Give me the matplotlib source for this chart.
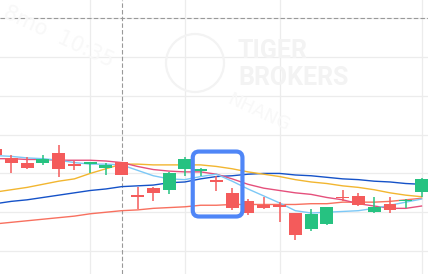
import numpy as np
import matplotlib.pyplot as plt
from matplotlib.patches import FancyBboxPatch, Ellipse

# candle data (open, high, low, close), one per bar
opens  = [1.631, 1.620, 1.613, 1.613, 1.626, 1.612, 1.612, 1.607, 1.615, 1.572,
          1.581, 1.579, 1.606, 1.603, 1.592, 1.575, 1.564, 1.559, 1.559, 1.549,
          1.528, 1.535, 1.570, 1.571, 1.550, 1.561, 1.564, 1.576]
highs  = [1.633, 1.624, 1.621, 1.624, 1.637, 1.616, 1.615, 1.613, 1.615, 1.582,
          1.582, 1.602, 1.621, 1.607, 1.597, 1.581, 1.567, 1.570, 1.563, 1.549,
          1.554, 1.557, 1.579, 1.575, 1.570, 1.570, 1.567, 1.594]
lows   = [1.622, 1.601, 1.606, 1.611, 1.595, 1.604, 1.601, 1.598, 1.598, 1.554,
          1.564, 1.573, 1.597, 1.597, 1.577, 1.553, 1.546, 1.554, 1.537, 1.514,
          1.526, 1.534, 1.564, 1.558, 1.549, 1.549, 1.555, 1.570]
closes = [1.624, 1.613, 1.607, 1.619, 1.606, 1.610, 1.615, 1.611, 1.598, 1.570,
          1.575, 1.601, 1.619, 1.606, 1.589, 1.555, 1.549, 1.555, 1.557, 1.521,
          1.548, 1.557, 1.568, 1.559, 1.557, 1.553, 1.566, 1.593]

# moving averages
ma5   = [1.623, 1.622, 1.620, 1.619, 1.617, 1.614, 1.612, 1.612, 1.611, 1.604,
         1.597, 1.593, 1.592, 1.596, 1.599, 1.590, 1.580, 1.571, 1.562, 1.552,
         1.549, 1.550, 1.551, 1.552, 1.555, 1.559, 1.563, 1.567]
ma10  = [1.619, 1.619, 1.618, 1.618, 1.617, 1.617, 1.617, 1.616, 1.614, 1.609,
         1.605, 1.603, 1.602, 1.602, 1.599, 1.593, 1.586, 1.581, 1.578, 1.575,
         1.573, 1.569, 1.566, 1.561, 1.558, 1.555, 1.555, 1.558]
ma20  = [1.576, 1.579, 1.582, 1.586, 1.590, 1.593, 1.600, 1.606, 1.612, 1.612,
         1.611, 1.611, 1.611, 1.611, 1.609, 1.606, 1.602, 1.599, 1.596, 1.592,
         1.589, 1.587, 1.584, 1.582, 1.579, 1.575, 1.572, 1.570]
ma60  = [1.561, 1.564, 1.566, 1.569, 1.572, 1.575, 1.578, 1.580, 1.583, 1.584,
         1.585, 1.588, 1.589, 1.593, 1.596, 1.597, 1.599, 1.600, 1.600, 1.598,
         1.597, 1.595, 1.593, 1.592, 1.590, 1.589, 1.587, 1.586]
ma120 = [1.535, 1.537, 1.539, 1.541, 1.543, 1.545, 1.548, 1.550, 1.552, 1.553,
         1.555, 1.556, 1.557, 1.559, 1.559, 1.560, 1.560, 1.560, 1.560, 1.560,
         1.561, 1.561, 1.563, 1.563, 1.563, 1.564, 1.566, 1.568]

grid_prices = [1.50, 1.55, 1.60, 1.65, 1.70, 1.75, 1.80]
grid_bars = [6, 12, 18, 27]
cross_bar = 8
cross_price = 1.80
box_bars = (12.5, 15.65)
box_prices = (1.5445, 1.6282)

up_col = '#26c281'
down_col = '#f45b5b'

x = np.arange(len(opens))
o = np.array(opens)
c = np.array(closes)

W, H = 428, 274
fig = plt.figure(figsize=(W / 100, H / 100), dpi=100)
ax = fig.add_axes([0, 0, 1, 1])
ax.set_xlim(0.284, 27.41)
ax.set_ylim(1.4704, 1.8235)

for s in ax.spines.values():
    s.set_visible(False)
ax.set_xticks(grid_bars)
ax.set_yticks(grid_prices)
ax.tick_params(length=0, labelbottom=False, labelleft=False)
ax.grid(True, color='#ececec', lw=0.9, zorder=0)
ax.set_axisbelow(True)

# watermark (very faint)
fig.patches.append(Ellipse((195 / W, 1 - 63 / H), 58 / W, 58 / H, transform=fig.transFigure,
                           fill=False, ec='#f3f3f3', lw=1.6, zorder=0))
fig.text(238 / W, 1 - 58 / H, 'TIGER', fontsize=18, fontweight='bold', family='Roboto',
         color='#f3f3f3', zorder=0)
fig.text(238 / W, 1 - 85 / H, 'BROKERS', fontsize=18, fontweight='bold', family='Roboto',
         color='#f3f3f3', zorder=0)
fig.text(0.0, 0.99, '8mo  10:35', fontsize=15, color='#f8f8f8', rotation=-25, va='top', zorder=0)
fig.text(225 / W, 1 - 90 / H, 'NHANG', fontsize=13, color='#f8f8f8', rotation=-25, va='top', zorder=0)

# crosshair
ax.axvline(cross_bar, color='#999999', lw=0.8, ls=(0, (4, 2)), zorder=1)
ax.axhline(cross_price, color='#999999', lw=0.8, ls=(0, (4, 2)), zorder=1)

# moving averages
ax.plot(x, ma120, color='#f8705f', lw=1.0, zorder=2)
ax.plot(x, ma60, color='#1552c8', lw=1.0, zorder=2)
ax.plot(x, ma20, color='#f2b630', lw=1.0, zorder=2)
ax.plot(x, ma10, color='#e5507c', lw=1.0, zorder=2)
ax.plot(x, ma5, color='#7cc8f6', lw=1.0, zorder=2)

# candles
colors = np.where(c >= o, up_col, down_col)
ax.vlines(x, lows, highs, color=colors, lw=1.1, zorder=3)
ax.bar(x, np.maximum(np.abs(c - o), 0.0015), bottom=np.minimum(o, c), width=0.82,
       color=colors, zorder=4)

# highlight box
asp = (ax.get_ylim()[1] - ax.get_ylim()[0]) / H / ((ax.get_xlim()[1] - ax.get_xlim()[0]) / W)
box = FancyBboxPatch((box_bars[0], box_prices[0]), box_bars[1] - box_bars[0],
                     box_prices[1] - box_prices[0],
                     boxstyle='round,pad=0,rounding_size=0.4', mutation_aspect=asp,
                     fill=False, ec='#4f86f7', lw=3, zorder=5)
ax.add_patch(box)

fig.savefig('out.png', dpi=100)
